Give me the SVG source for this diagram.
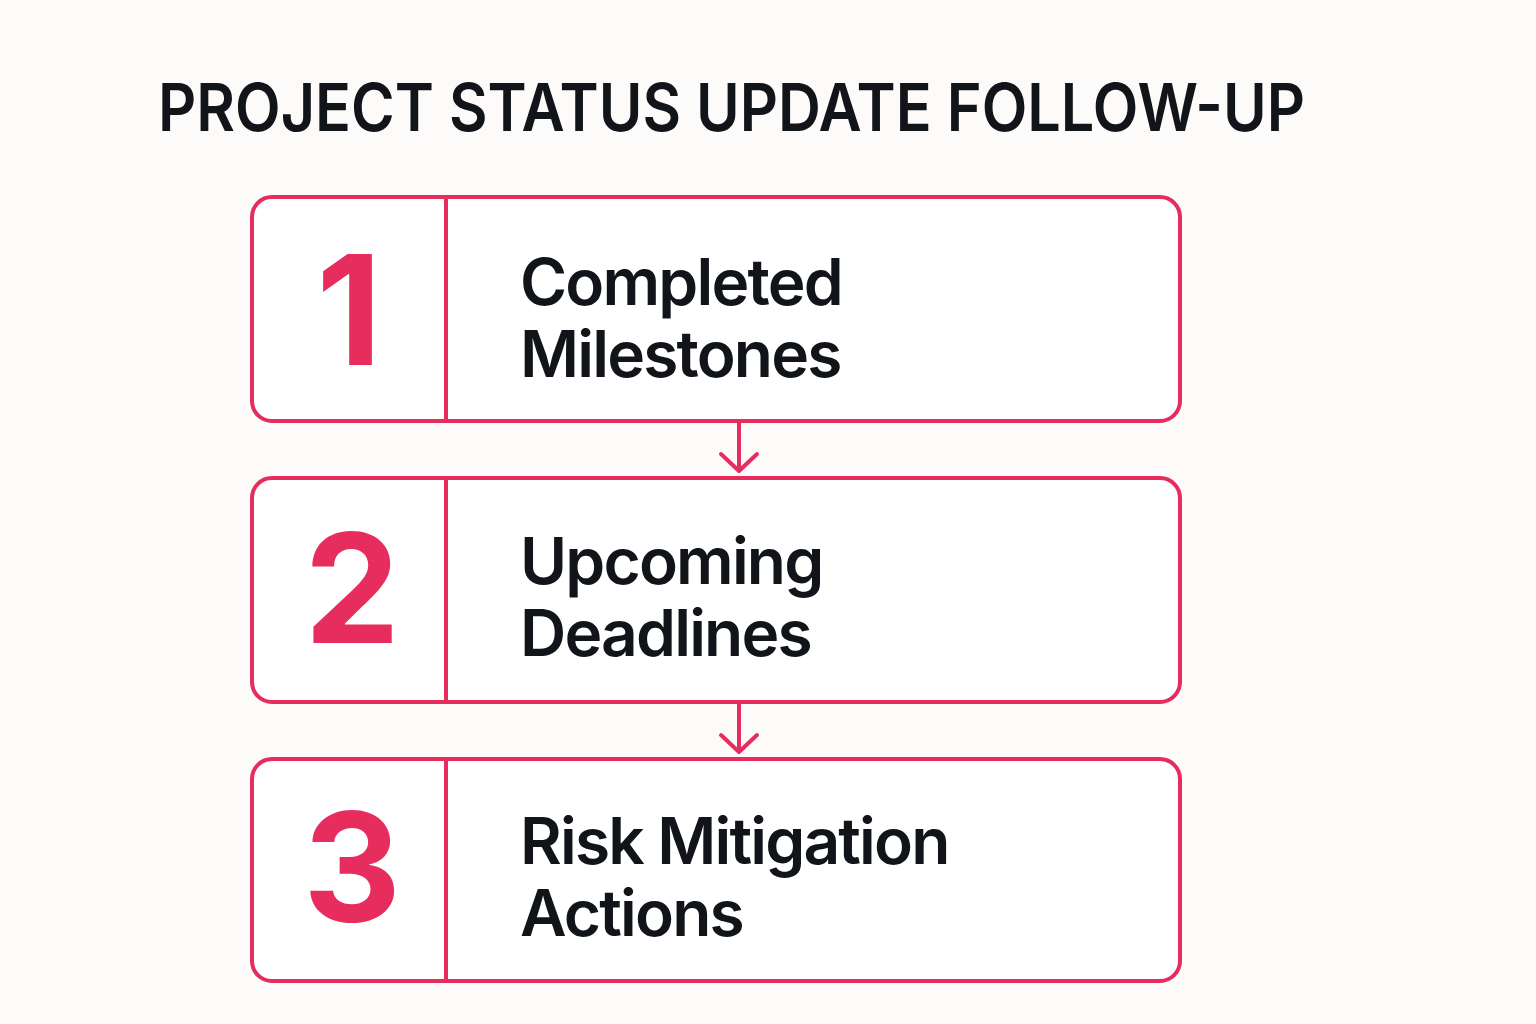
<svg xmlns="http://www.w3.org/2000/svg" width="1536" height="1024" viewBox="0 0 1536 1024">
<style>
.box{fill:#ffffff;stroke:#e62d5e;stroke-width:4}
.div{stroke:#e62d5e;stroke-width:4}
.num{font-family:Inter,"Liberation Sans",sans-serif;font-weight:700;font-size:152px;fill:#e62d5e;text-anchor:middle;letter-spacing:0}
.lbl{font-family:Inter,"Liberation Sans",sans-serif;font-weight:600;font-size:64px;fill:#111418;letter-spacing:-1.8px}
.title{font-family:Inter,"Liberation Sans",sans-serif;font-weight:600;font-size:66px;fill:#111418}
.conn{stroke:#e62d5e;stroke-width:4;fill:none;stroke-linecap:round;stroke-linejoin:round}
</style>
<rect width="1536" height="1024" fill="#fcfbf9"/>
<text class="title" x="158" y="131" textLength="1147" lengthAdjust="spacingAndGlyphs">PROJECT STATUS UPDATE FOLLOW-UP</text>
<g id="node1">
<rect class="box" x="252" y="197" width="928" height="224" rx="20"/>
<line class="div" x1="446" y1="197" x2="446" y2="421"/>
<text class="num" x="349" y="365">1</text>
<text class="lbl" x="520" y="305">Completed</text>
<text class="lbl" x="520" y="377">Milestones</text>
</g>
<g id="node2">
<rect class="box" x="252" y="478" width="928" height="224" rx="20"/>
<line class="div" x1="446" y1="478" x2="446" y2="702"/>
<text class="num" x="352" y="643">2</text>
<text class="lbl" x="520" y="584">Upcoming</text>
<text class="lbl" x="520" y="656">Deadlines</text>
</g>
<g id="node3">
<rect class="box" x="252" y="759" width="928" height="222" rx="20"/>
<line class="div" x1="446" y1="759" x2="446" y2="981"/>
<text class="num" x="352" y="922">3</text>
<text class="lbl" x="520" y="864">Risk Mitigation</text>
<text class="lbl" x="520" y="936">Actions</text>
</g>
<g id="connectors">
<path class="conn" d="M739 423 V471 M721 454 L739 471 L757 454"/>
<path class="conn" d="M739 704 V752 M721 735 L739 752 L757 735"/>
</g>
</svg>
